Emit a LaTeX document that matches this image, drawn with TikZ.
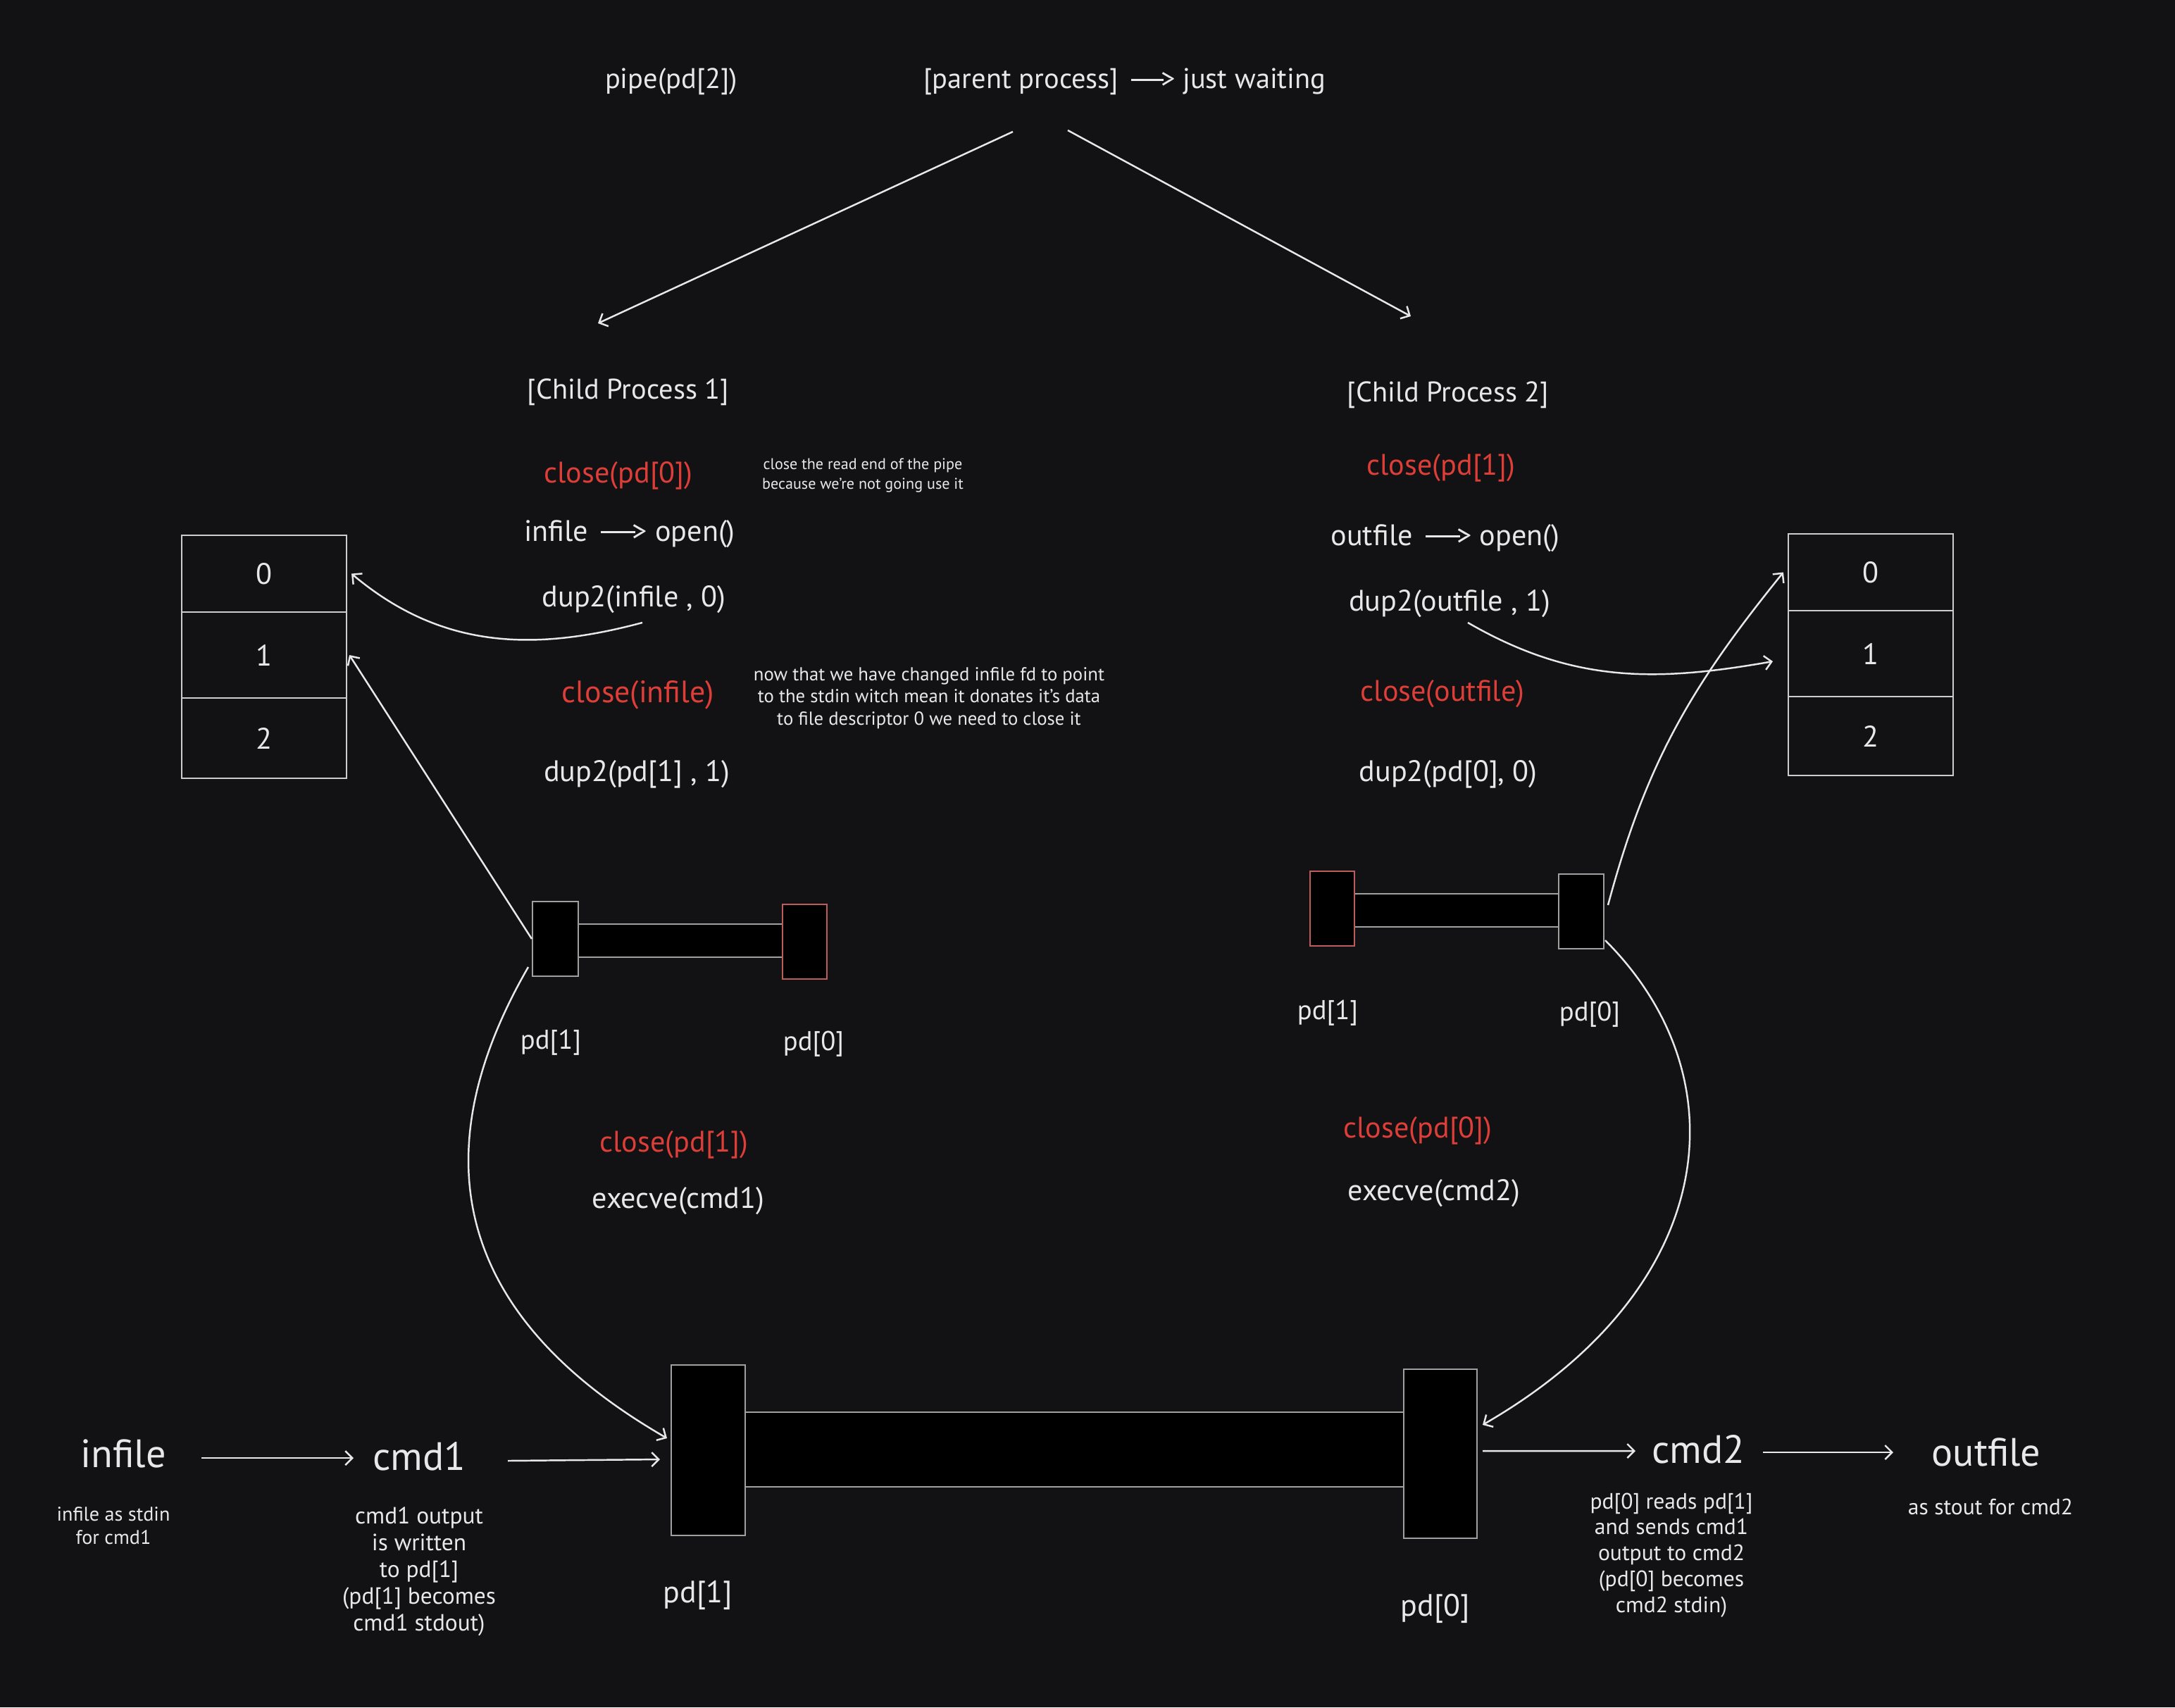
\documentclass[tikz,border=0pt]{standalone}
\usepackage{fontspec}
\setmainfont{PT Sans}
\usetikzlibrary{arrows.meta,calc}
\definecolor{bgc}{RGB}{18,18,20}
\definecolor{fgc}{RGB}{232,232,232}
\definecolor{redc}{RGB}{222,62,56}
\definecolor{pipec}{RGB}{160,160,160}
\definecolor{pipered}{RGB}{190,92,92}
\definecolor{cellc}{RGB}{205,205,205}
\newcommand{\longto}{\,\rule[0.27em]{1.15em}{0.08em}\kern-0.1em>}
\tikzset{>={Straight Barb[length=1mm,width=2mm]}}
\tikzset{
  txt/.style={text=fgc, inner sep=0pt, font=\fontsize{12}{14}\selectfont},
  redtxt/.style={txt, text=redc},
  head/.style={txt, font=\fontsize{11.5}{13}\selectfont},
  big/.style={txt, font=\fontsize{16}{18}\selectfont},
  pdlbl/.style={txt, font=\fontsize{11}{13}\selectfont},
  note/.style={txt, align=center, font=\fontsize{6.3}{7.8}\selectfont},
  longnote/.style={txt, align=center, font=\fontsize{7.6}{8.9}\selectfont},
  lownote/.style={txt, align=center, font=\fontsize{9}{10.5}\selectfont},
  fdcell/.style={draw=cellc, line width=0.6pt, minimum width=2.34cm, inner sep=0pt, text=fgc, font=\fontsize{12}{14}\selectfont},
  blk/.style={draw=pipec, fill=black, line width=0.6pt, inner sep=0pt},
  redblk/.style={blk, draw=pipered},
  conn/.style={->, draw=fgc, line width=0.7pt},
}
\begin{document}
\begin{tikzpicture}
  \fill[bgc] (0,0) rectangle (30.88,-24.24);
  \useasboundingbox (0,0) rectangle (30.88,-24.24);

  % parent
  \node[head] (pipe) at (9.53,-1.16) {pipe(pd[2])};
  \node[head] (parent) at (15.97,-1.16) {[parent process] \longto{} just waiting};

  % child 1
  \node[head] (child1) at (8.92,-5.57) {[Child Process 1]};
  \node[redtxt] (c1close) at (8.78,-6.75) {close(pd[0])};
  \node[note] (c1why) at (12.25,-6.75) {close the read end of the pipe\\because we're not going use it};
  \node[txt] (c1open) at (8.94,-7.58) {infile \longto{} open()};
  \node[txt] (c1dupin) at (9.00,-8.51) {dup2(infile , 0)};
  \node[redtxt, font=\fontsize{12.5}{14}\selectfont] (c1closein) at (9.06,-9.87) {close(infile)};
  \node[longnote] (c1how) at (13.19,-9.91) {now that we have changed infile fd to point\\to the stdin witch mean it donates it's data\\to file descriptor 0 we need to close it};
  \node[txt] (c1dupout) at (9.04,-10.99) {dup2(pd[1] , 1)};

  % child 2
  \node[head] (child2) at (20.56,-5.61) {[Child Process 2]};
  \node[redtxt] (c2close) at (20.46,-6.64) {close(pd[1])};
  \node[txt] (c2open) at (20.52,-7.64) {outfile \longto{} open()};
  \node[txt] (c2dupout) at (20.58,-8.57) {dup2(outfile , 1)};
  \node[redtxt] (c2closeout) at (20.48,-9.85) {close(outfile)};
  \node[txt] (c2dupin) at (20.56,-10.99) {dup2(pd[0], 0)};

  % fd tables
  \foreach \i/\y/\h in {0/-8.145/1.09, 1/-9.30/1.22, 2/-10.48/1.14}
    \node[fdcell, minimum height=\h cm] (lfd\i) at (3.75,\y) {\i};
  \foreach \i/\y/\h in {0/-8.125/1.09, 1/-9.28/1.22, 2/-10.45/1.12}
    \node[fdcell, minimum height=\h cm] (rfd\i) at (26.56,\y) {\i};

  % small pipes
  \node[blk, minimum width=3.0cm, minimum height=0.47cm] (sp1bar) at (9.66,-13.355) {};
  \node[blk, minimum width=0.65cm, minimum height=1.06cm] (sp1L) at (7.885,-13.33) {};
  \node[redblk, minimum width=0.63cm, minimum height=1.06cm] (sp1R) at (11.425,-13.37) {};
  \node[pdlbl] (sp1Llbl) at (7.82,-14.80) {pd[1]};
  \node[pdlbl] (sp1Rlbl) at (11.55,-14.82) {pd[0]};

  \node[blk, minimum width=3.0cm, minimum height=0.47cm] (sp2bar) at (20.68,-12.925) {};
  \node[redblk, minimum width=0.63cm, minimum height=1.06cm] (sp2L) at (18.915,-12.90) {};
  \node[blk, minimum width=0.64cm, minimum height=1.06cm] (sp2R) at (22.45,-12.94) {};
  \node[pdlbl] (sp2Llbl) at (18.85,-14.38) {pd[1]};
  \node[pdlbl] (sp2Rlbl) at (22.57,-14.40) {pd[0]};

  % exec
  \node[redtxt] (c1shut) at (9.57,-16.25) {close(pd[1])};
  \node[txt] (c1exec) at (9.63,-17.05) {execve(cmd1)};
  \node[redtxt] (c2shut) at (20.13,-16.05) {close(pd[0])};
  \node[txt] (c2exec) at (20.36,-16.94) {execve(cmd2)};

  % big pipe
  \node[blk, minimum width=9.45cm, minimum height=1.06cm] (bigbar) at (15.255,-20.58) {};
  \node[blk, minimum width=1.05cm, minimum height=2.42cm] (bigL) at (10.055,-20.59) {};
  \node[blk, minimum width=1.04cm, minimum height=2.40cm] (bigR) at (20.45,-20.64) {};
  \node[pdlbl, font=\fontsize{12.5}{14}\selectfont] (bigLlbl) at (9.91,-22.65) {pd[1]};
  \node[pdlbl, font=\fontsize{12.5}{14}\selectfont] (bigRlbl) at (20.38,-22.84) {pd[0]};

  % commands
  \node[big] (infile) at (1.75,-20.64) {infile};
  \node[big] (cmd1) at (5.95,-20.68) {cmd1};
  \node[big] (cmd2) at (24.11,-20.58) {cmd2};
  \node[big] (outfile) at (28.20,-20.62) {outfile};
  \node[lownote, font=\fontsize{8}{9.5}\selectfont] (infnote) at (1.61,-21.66) {infile as stdin\\for cmd1};
  \node[lownote, font=\fontsize{9.5}{10.8}\selectfont] (cmd1note) at (5.95,-22.31) {cmd1 output\\is written\\to pd[1]\\(pd[1] becomes\\cmd1 stdout)};
  \node[lownote] (cmd2note) at (23.73,-22.08) {pd[0] reads pd[1]\\and sends cmd1\\output to cmd2\\(pd[0] becomes\\cmd2 stdin)};
  \node[lownote] (outnote) at (28.26,-21.39) {as stout for cmd2};

  % arrows
  \draw[conn] ([shift={(-1.59,-0.71)}]parent.center) -- ([shift={(-0.43,0.98)}]child1.center);
  \draw[conn] ([shift={(-0.81,-0.69)}]parent.center) -- ([shift={(-0.53,1.12)}]child2.center);
  \draw[conn] ([shift={(0.12,-0.33)}]c1dupin.center) to[out=195, in=-40] ([xshift=0.06cm]lfd0.east);
  \draw[conn] (sp1L.west) -- ([xshift=0.03cm]lfd1.east);
  \draw[conn] ([shift={(-0.385,-0.40)}]sp1L.center) to[out=240, in=150, in looseness=1.4] ([shift={(-0.585,0.17)}]bigL.center);
  \draw[conn] ([shift={(0.26,-0.27)}]c2dupout.center) to[out=-30, in=190] ([shift={(-1.39,-0.11)}]rfd1.center);
  \draw[conn] ([shift={(0.38,0.09)}]sp2R.center) to[out=75, in=231] ([xshift=-0.06cm]rfd0.west);
  \draw[conn] ([shift={(0.34,-0.41)}]sp2R.center) to[out=-45, in=30, in looseness=1.4] ([shift={(0.60,0.41)}]bigR.center);
  \draw[conn] ([shift={(1.11,-0.06)}]infile.center) -- ([shift={(-0.93,-0.02)}]cmd1.center);
  \draw[conn] ([shift={(1.26,-0.06)}]cmd1.center) -- ([shift={(-0.685,-0.13)}]bigL.center);
  \draw[conn] ([shift={(0.60,0.04)}]bigR.center) -- ([shift={(-0.89,-0.02)}]cmd2.center);
  \draw[conn] ([shift={(0.92,-0.04)}]cmd2.center) -- ([shift={(-1.32,0)}]outfile.center);
\end{tikzpicture}
\end{document}
